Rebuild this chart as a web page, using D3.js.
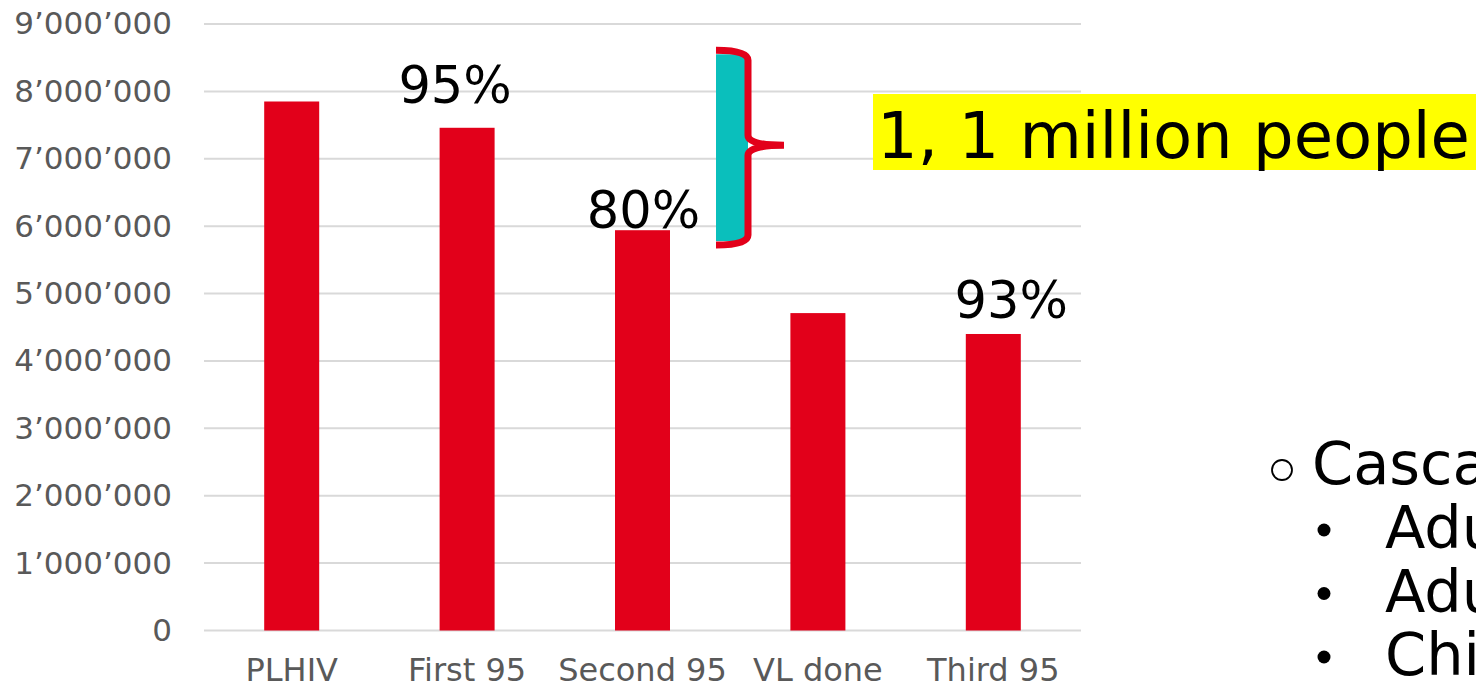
<!DOCTYPE html>
<html>
<head>
<meta charset="utf-8">
<script src="https://cdn.jsdelivr.net/npm/d3@7"></script>
<style>
  body { margin: 0; background: #fff; overflow: hidden; }
  svg { display: block; font-family: "DejaVu Sans", Verdana, sans-serif; }
</style>
</head>
<body>
<div id="theChart"></div>
<script>
const categories = ["PLHIV", "First 95", "Second 95", "VL done", "Third 95"]
const values = [7850000, 7460000, 5940000, 4710000, 4400000]
const yTicks = [0, 1000000, 2000000, 3000000, 4000000, 5000000, 6000000, 7000000, 8000000, 9000000]
const pctCats = ["First 95", "Second 95", "Third 95"]
const pctText = ["95%", "80%", "93%"]
const gapLabel = "1, 1 million people"
const bulletLines = ["Cascade", "Adults", "Adults", "Children"]

const w = 1476
const h = 689
const margin = { top: 24, right: 395, bottom: 58.5, left: 204 }

const svg = d3.select("#theChart").append("svg").attr("width", w).attr("height", h)

const x = d3.scaleBand().domain(categories).range([margin.left, w - margin.right]).paddingInner(0).paddingOuter(0)
const y = d3.scaleLinear().domain([0, 9000000]).range([h - margin.bottom, margin.top])

const fmt = d => d === 0 ? "0" : d3.format(",")(d).replace(/,/g, "\u2019")

// gridlines
svg.append("g")
	.selectAll("line")
	.data(yTicks)
	.enter()
	.append("line")
	.attr("x1", margin.left)
	.attr("x2", w - margin.right)
	.attr("y1", d => y(d))
	.attr("y2", d => y(d))
	.attr("stroke", "#d9d9d9")
	.attr("stroke-width", 2)

// y labels
const yAxis = d3.axisLeft(y).tickValues(yTicks).tickFormat(fmt).tickSize(0).tickPadding(32)
const gy = svg.append("g").attr("transform", `translate(${margin.left},0)`).call(yAxis)
gy.select(".domain").remove()
gy.selectAll("text").attr("fill", "#595959").style("font-size", "31px").style("font-family", "DejaVu Sans, sans-serif")

// x labels
const xAxis = d3.axisBottom(x).tickSize(0).tickPadding(28)
const gx = svg.append("g").attr("transform", `translate(0,${h - margin.bottom})`).call(xAxis)
gx.select(".domain").remove()
gx.selectAll("text").attr("fill", "#595959").style("font-size", "32px").style("font-family", "DejaVu Sans, sans-serif")

// bars
const barW = 55
svg.append("g")
	.selectAll("rect")
	.data(values)
	.enter()
	.append("rect")
	.attr("x", (d, i) => x(categories[i]) + x.bandwidth() / 2 - barW / 2)
	.attr("width", barW)
	.attr("y", d => y(d))
	.attr("height", d => y(0) - y(d))
	.attr("fill", "#e2001a")

// percent labels (hand placed text boxes in the original)
const pctBase = [7830000, 5970000, 4640000]
const pctShift = [-12, 1, 18]
svg.append("g")
	.selectAll("text")
	.data(pctText)
	.enter()
	.append("text")
	.attr("x", (d, i) => x(pctCats[i]) + x.bandwidth() / 2 + pctShift[i])
	.attr("y", (d, i) => y(pctBase[i]))
	.attr("text-anchor", "middle")
	.style("font-size", "51px")
	.attr("fill", "#000")
	.text(d => d)

// brace showing the gap
const bTop = y(8610000), bBot = y(5720000), bMid = y(7200000)
const bx0 = 716, bx1 = 748, tip = 784
svg.append("rect")
	.attr("x", bx0).attr("y", bTop + 4)
	.attr("width", bx1 - bx0).attr("height", bBot - bTop - 8)
	.attr("fill", "#0abfbc")
svg.append("path")
	.attr("d", `M${bx0},${bTop} Q${bx1},${bTop} ${bx1},${bTop + 10}
		L${bx1},${bMid - 10} Q${bx1},${bMid} ${tip},${bMid}
		Q${bx1},${bMid} ${bx1},${bMid + 10}
		L${bx1},${bBot - 10} Q${bx1},${bBot} ${bx0},${bBot}`)
	.attr("fill", "none")
	.attr("stroke", "#e2001a")
	.attr("stroke-width", 7)

// highlight label
svg.append("rect").attr("x", 873).attr("y", 94).attr("width", 610).attr("height", 76).attr("fill", "#ffff00")
svg.append("text")
	.attr("x", 877).attr("y", 158)
	.style("font-size", "64px")
	.attr("fill", "#000")
	.text(gapLabel)

// bullet list at right, cut off by the slide edge
const bl = svg.append("g")
bl.append("circle").attr("cx", 1282).attr("cy", 470).attr("r", 10).attr("fill", "none").attr("stroke", "#000").attr("stroke-width", 1.8)
bl.append("text").attr("x", 1312).attr("y", 484).style("font-size", "59px").text(bulletLines[0])
bulletLines.slice(1).forEach((t, i) => {
	const yy = 548 + i * 63.5
	bl.append("circle").attr("cx", 1324).attr("cy", yy - 18).attr("r", 6.5).attr("fill", "#000")
	bl.append("text").attr("x", 1385).attr("y", yy).style("font-size", "59px").text(t)
})
</script>
</body>
</html>
